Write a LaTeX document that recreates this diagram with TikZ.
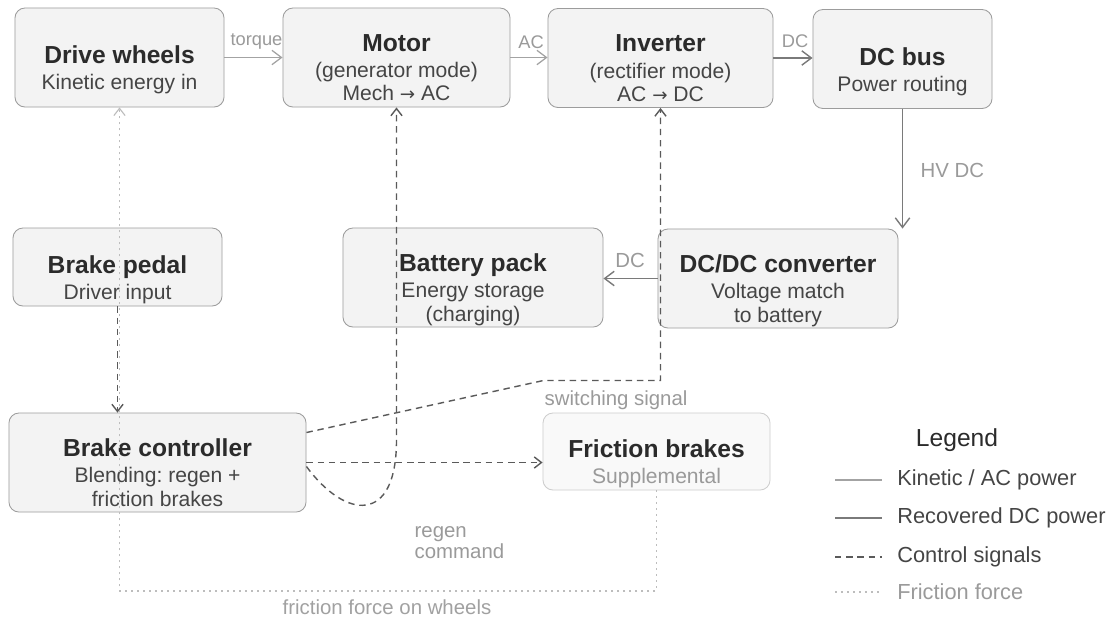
\documentclass[tikz,border=0pt]{standalone}
\usepackage{fontspec}
\setmainfont{Liberation Sans}
\newfontfamily\arrowfont{DejaVu Sans}
\usetikzlibrary{arrows.meta}
\frenchspacing

\definecolor{boxline}{HTML}{9C9C9C}
\definecolor{boxfill}{HTML}{F3F3F3}
\definecolor{fbline}{HTML}{CDCDCD}
\definecolor{fbfill}{HTML}{F9F9F9}
\definecolor{titletxt}{HTML}{2B2B2B}
\definecolor{subtxt}{HTML}{454545}
\definecolor{lbltxt}{HTML}{9A9A9A}
\definecolor{kinline}{HTML}{A3A3A3}
\definecolor{dcline}{HTML}{7A7A7A}
\definecolor{ctrlline}{HTML}{5A5A5A}
\definecolor{fricline}{HTML}{BDBDBD}

\newcommand{\titlefont}{\fontsize{17.5}{20}\selectfont\bfseries}
\newcommand{\subfont}{\fontsize{15}{16.5}\selectfont}
\newcommand{\toarrow}{{\arrowfont\fontsize{13}{15}\selectfont →}}
\newcommand{\boxtext}[2]{\raisebox{-3.4mm}[\height][\depth]{\begin{tabular}{@{}c@{}}{\titlefont\color{titletxt}#1}\\[2pt]#2\end{tabular}}}

\begin{document}
\begin{tikzpicture}[x=0.025cm, y=-0.025cm,
  box/.style={draw=boxline, fill=boxfill, line width=0.6pt, rounded corners=2.5mm,
    minimum width=#1, minimum height=2.475cm, inner sep=0pt, font=\subfont, text=subtxt},
  fbox/.style={box=#1, draw=fbline, fill=fbfill, minimum height=1.925cm},
  lbl/.style={font=\fontsize{14.5}{15}\selectfont, text=lbltxt, inner sep=1pt},
  toplbl/.style={lbl, font=\fontsize{13}{15}\selectfont},
  kin/.style={draw=kinline, line width=0.9pt, -{Straight Barb[length=2.4mm, width=3.6mm]}},
  dcpow/.style={draw=dcline, line width=1pt, -{Straight Barb[length=2.4mm, width=3.6mm]}},
  ctrl/.style={draw=ctrlline, line width=1pt, dash pattern=on 1.6mm off 1.2mm,
    -{Straight Barb[length=1.8mm, width=2.8mm]}},
  fric/.style={draw=fricline, line width=0.8pt, dash pattern=on 0.5mm off 1mm,
    -{Straight Barb[length=1.8mm, width=2.8mm]}},
  legtxt/.style={font=\fontsize{15.5}{17}\selectfont, text=subtxt, anchor=west, inner sep=0pt}]

\useasboundingbox (0,0) rectangle (1115,621);
\fill[white] (0,0) rectangle (1115,621);

\node[box=5.225cm] (dw) at (119.5,57.5) {\boxtext{Drive wheels}{Kinetic energy in}};
\node[box=5.675cm] (motor) at (396.5,57.5) {\boxtext{Motor}{(generator mode)\\Mech \toarrow{} AC}};
\node[box=5.625cm] (inv) at (660.5,58) {\boxtext{Inverter}{(rectifier mode)\\AC \toarrow{} DC}};
\node[box=4.475cm] (bus) at (902.5,59) {\boxtext{DC bus}{Power routing}};

\node[box=5.225cm, minimum height=1.95cm] (bp) at (117.5,267) {\boxtext{Brake pedal}{Driver input}};
\node[box=6.5cm] (bat) at (473,277.5) {\boxtext{Battery pack}{Energy storage\\(charging)}};
\node[box=6cm] (dcdc) at (778,278.5) {\boxtext{DC/DC converter}{Voltage match\\to battery}};

\node[box=7.425cm] (bc) at (157.5,462.5) {\boxtext{Brake controller}{Blending: regen +\\friction brakes}};
\node[fbox=5.675cm] (fb) at (656.5,451.5) {\boxtext{Friction brakes}{\color{lbltxt}Supplemental}};

\draw[kin] (dw.east) -- (dw.east -| motor.west);
\draw[kin] (motor.east) -- (motor.east -| inv.west);
\draw[dcpow] (inv.east) -- (inv.east -| bus.west);
\draw[dcpow] (bus.south) -- (bus.south |- dcdc.north);
\draw[dcpow] (dcdc.west) -- (dcdc.west -| bat.east);

\draw[ctrl] (bp.south) -- (bp.south |- bc.north);
\draw[ctrl] (bc.east) -- (bc.east -| fb.west);
\draw[ctrl] ([yshift=-1mm]bc.east) .. controls +(39,53) and +(0,85) .. (motor.south |- 0,440) -- (motor.south);
\draw[ctrl] ([yshift=7.5mm]bc.east) -- ++(237,-52) -| (inv.south);

\draw[fric] (fb.south) -- (fb.south |- 0,591) -| (dw.south);

\node[toplbl] (torque) at (256.5,41) {torque};
\node[toplbl] (aclbl) at (531,42) {AC};
\node[toplbl] (dclbl) at (795,41) {DC};
\node[lbl, anchor=west] (hvdc) at (919,170) {HV DC};
\node[lbl] (batdc) at (630,260) {DC};
\node[lbl, anchor=west] (switching) at (543,400) {switching signal};
\node[lbl, anchor=west, align=left] (regen) at (413,543) {regen\\command};
\node[lbl, text=fricline!85!black] (fricforce) at (387,607) {friction force on wheels};

\node[font=\fontsize{17.5}{20}\selectfont, text=titletxt] (legend) at (957,440) {Legend};
\draw[draw=kinline, line width=0.9pt] (835,480) -- (882,480);
\node[legtxt] (lgkin) at (897,480) {Kinetic / AC power};
\draw[draw=dcline, line width=1pt] (835,518) -- (882,518);
\node[legtxt] (lgdc) at (897,518) {Recovered DC power};
\draw[draw=ctrlline, line width=1pt, dash pattern=on 1.6mm off 1.2mm] (835,557) -- (882,557);
\node[legtxt] (lgctrl) at (897,557) {Control signals};
\draw[draw=fricline, line width=0.8pt, dash pattern=on 0.5mm off 1mm] (835,592) -- (882,592);
\node[legtxt, text=lbltxt] (lgfric) at (897,592) {Friction force};
\end{tikzpicture}
\end{document}
